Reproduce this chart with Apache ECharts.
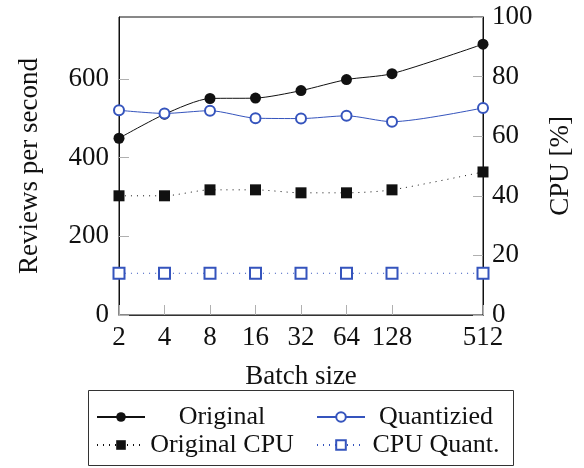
<!DOCTYPE html>
<html><head><meta charset="utf-8">
<script src="https://cdn.jsdelivr.net/npm/echarts@6/dist/echarts.min.js"></script>
<style>html,body{margin:0;padding:0;background:#fff}#c{width:584px;height:468px}</style>
</head><body><div id="c"></div>
<script>
const batchSizes = [2, 4, 8, 16, 32, 64, 128, 512];
const original = [449, 510, 550, 551, 570, 598, 613, 688];
const quantized = [520, 512, 519, 500, 499, 506, 491, 526];
const originalCpu = [40, 40, 42, 42, 41, 41, 42, 48];
const cpuQuant = [14, 14, 14, 14, 14, 14, 14, 14];

const FONT = "'Liberation Serif', 'DejaVu Serif', serif";
const BLUE = '#3554bd';
const pair = (arr) => batchSizes.map((b, i) => [b, arr[i]]);

const chart = echarts.init(document.getElementById('c'), null, {renderer: 'canvas'});
const tickStyle = {show: true, inside: true, length: 10, lineStyle: {color: '#b0b0b0', width: 1}};
const labelStyle = {fontFamily: FONT, fontSize: 27, color: '#111'};
const nameStyle = {fontFamily: FONT, fontSize: 27, color: '#111'};

function legendAt(name, left, top, textWidth) {
  return {
    data: [name], left: left, top: top, orient: 'horizontal', padding: 0,
    itemWidth: 48, itemHeight: 12, selectedMode: false,
    formatter: '{t|' + name + '}',
    textStyle: {fontFamily: FONT, fontSize: 26, color: '#111',
      rich: {t: {width: textWidth, align: 'center', fontFamily: FONT, fontSize: 26, color: '#111'}}}
  };
}

chart.setOption({
  animation: false,
  backgroundColor: '#fff',
  grid: {left: 119, right: 101, top: 17, bottom: 153, show: true, borderColor: '#111', borderWidth: 1},
  xAxis: {
    type: 'log', logBase: 2, min: 2, max: 512,
    name: 'Batch size', nameLocation: 'middle', nameGap: 48,
    nameTextStyle: nameStyle,
    axisLine: {show: true, lineStyle: {color: '#333', width: 1}},
    axisTick: Object.assign({customValues: batchSizes}, tickStyle),
    axisLabel: Object.assign({customValues: batchSizes, margin: 9}, labelStyle),
    splitLine: {show: false}, minorTick: {show: false}
  },
  yAxis: [{
    type: 'value', min: 0, max: 757, interval: 200, position: 'left',
    name: 'Reviews per second', nameLocation: 'middle', nameGap: 76, nameRotate: 90,
    nameTextStyle: nameStyle,
    axisLine: {show: true, lineStyle: {color: '#111', width: 1}},
    axisTick: tickStyle,
    axisLabel: Object.assign({margin: 10, showMaxLabel: false}, labelStyle),
    splitLine: {show: false}
  }, {
    type: 'value', min: 0, max: 100, interval: 20, position: 'right',
    name: 'CPU [%]', nameLocation: 'middle', nameGap: 64, nameRotate: 90,
    nameTextStyle: nameStyle,
    axisLine: {show: true, lineStyle: {color: '#111', width: 1}},
    axisTick: tickStyle,
    axisLabel: Object.assign({margin: 9}, labelStyle),
    splitLine: {show: false}
  }],
  legend: [
    legendAt('Original', 96, 404, 144),
    legendAt('Quantizied', 316, 404, 132),
    legendAt('Original CPU', 96, 432, 144),
    legendAt('CPU Quant.', 316, 432, 132)
  ],
  graphic: [{
    type: 'rect', shape: {x: 88.5, y: 390.5, width: 425, height: 75},
    style: {fill: 'none', stroke: '#333', lineWidth: 1}, silent: true
  }],
  series: [{
    name: 'Original', type: 'line', yAxisIndex: 0, data: pair(original), smooth: 0.25,
    symbol: 'circle', symbolSize: 11,
    lineStyle: {color: '#111', width: 1}, itemStyle: {color: '#111'}
  }, {
    name: 'Quantizied', type: 'line', yAxisIndex: 0, data: pair(quantized), smooth: 0.25,
    symbol: 'emptyCircle', symbolSize: 10,
    lineStyle: {color: BLUE, width: 1}, itemStyle: {color: BLUE, borderWidth: 1}
  }, {
    name: 'Original CPU', type: 'line', yAxisIndex: 1, data: pair(originalCpu), smooth: 0.25,
    symbol: 'rect', symbolSize: 11,
    lineStyle: {color: '#111', width: 1, type: [1, 5]}, itemStyle: {color: '#111'}
  }, {
    name: 'CPU Quant.', type: 'line', yAxisIndex: 1, data: pair(cpuQuant), smooth: 0.25,
    symbol: 'emptyRect', symbolSize: 11,
    lineStyle: {color: BLUE, width: 1, type: [1, 5]}, itemStyle: {color: BLUE, borderWidth: 1}
  }]
});
</script></body></html>
